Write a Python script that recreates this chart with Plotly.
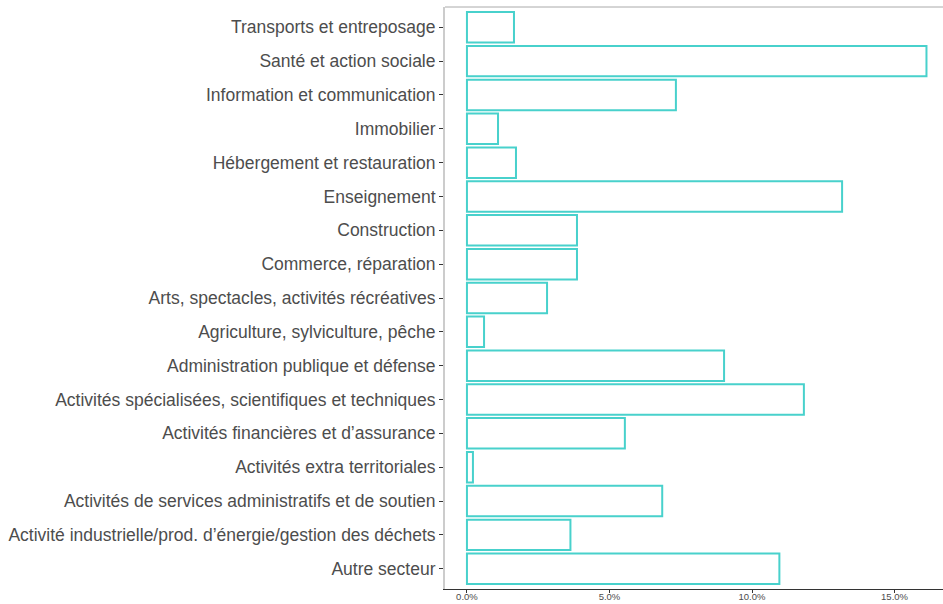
import plotly.graph_objects as go

# categories from bottom to top
categories = [
    "Autre secteur",
    "Activité industrielle/prod. d’énergie/gestion des déchets",
    "Activités de services administratifs et de soutien",
    "Activités extra territoriales",
    "Activités financières et d’assurance",
    "Activités spécialisées, scientifiques et techniques",
    "Administration publique et défense",
    "Agriculture, sylviculture, pêche",
    "Arts, spectacles, activités récréatives",
    "Commerce, réparation",
    "Construction",
    "Enseignement",
    "Hébergement et restauration",
    "Immobilier",
    "Information et communication",
    "Santé et action sociale",
    "Transports et entreposage",
]
values = [10.96, 3.63, 6.85, 0.21, 5.54, 11.82, 9.02, 0.60, 2.81, 3.86, 3.86,
          13.16, 1.72, 1.09, 7.33, 16.12, 1.65]
x_ticks = [0, 5, 10, 15]
x_tick_labels = ["0.0%", "5.0%", "10.0%", "15.0%"]

fig = go.Figure()
fig.add_trace(go.Bar(
    y=categories, x=values, orientation="h", width=0.9,
    marker=dict(color="white", line=dict(color="#48D1CC", width=2)),
    hoverinfo="x+y",
))

fig.update_layout(
    width=943, height=604,
    margin=dict(l=445, r=0, t=7, b=15),
    plot_bgcolor="white", paper_bgcolor="white",
    showlegend=False,
    font=dict(family="Liberation Sans, Arial, sans-serif", color="#4D4D4D"),
    xaxis=dict(
        range=[-0.77, 16.7], tickmode="array", tickvals=x_ticks, ticktext=x_tick_labels,
        showgrid=False, zeroline=False, showline=True, linecolor="#333333", linewidth=1,
        ticks="outside", ticklen=3, tickcolor="#333333", ticklabelstandoff=-4,
        tickfont=dict(size=9.5, color="#4D4D4D"), automargin=False,
    ),
    yaxis=dict(
        categoryorder="array", categoryarray=categories, range=[-0.6, 16.6],
        showgrid=False, zeroline=False, showline=True, linecolor="#CCCCCC", linewidth=2,
        ticks="outside", ticklen=4, tickcolor="#333333",
        tickfont=dict(size=17.5, color="#4D4D4D"), automargin=False,
    ),
    shapes=[dict(type="line", xref="paper", yref="paper", x0=0, x1=1, y0=1, y1=1,
                 line=dict(color="#AAAAAA", width=1))],
)

fig.write_html("out.html", config={"displayModeBar": False},
               post_script="document.body.style.margin='0';document.body.style.overflow='hidden';")
